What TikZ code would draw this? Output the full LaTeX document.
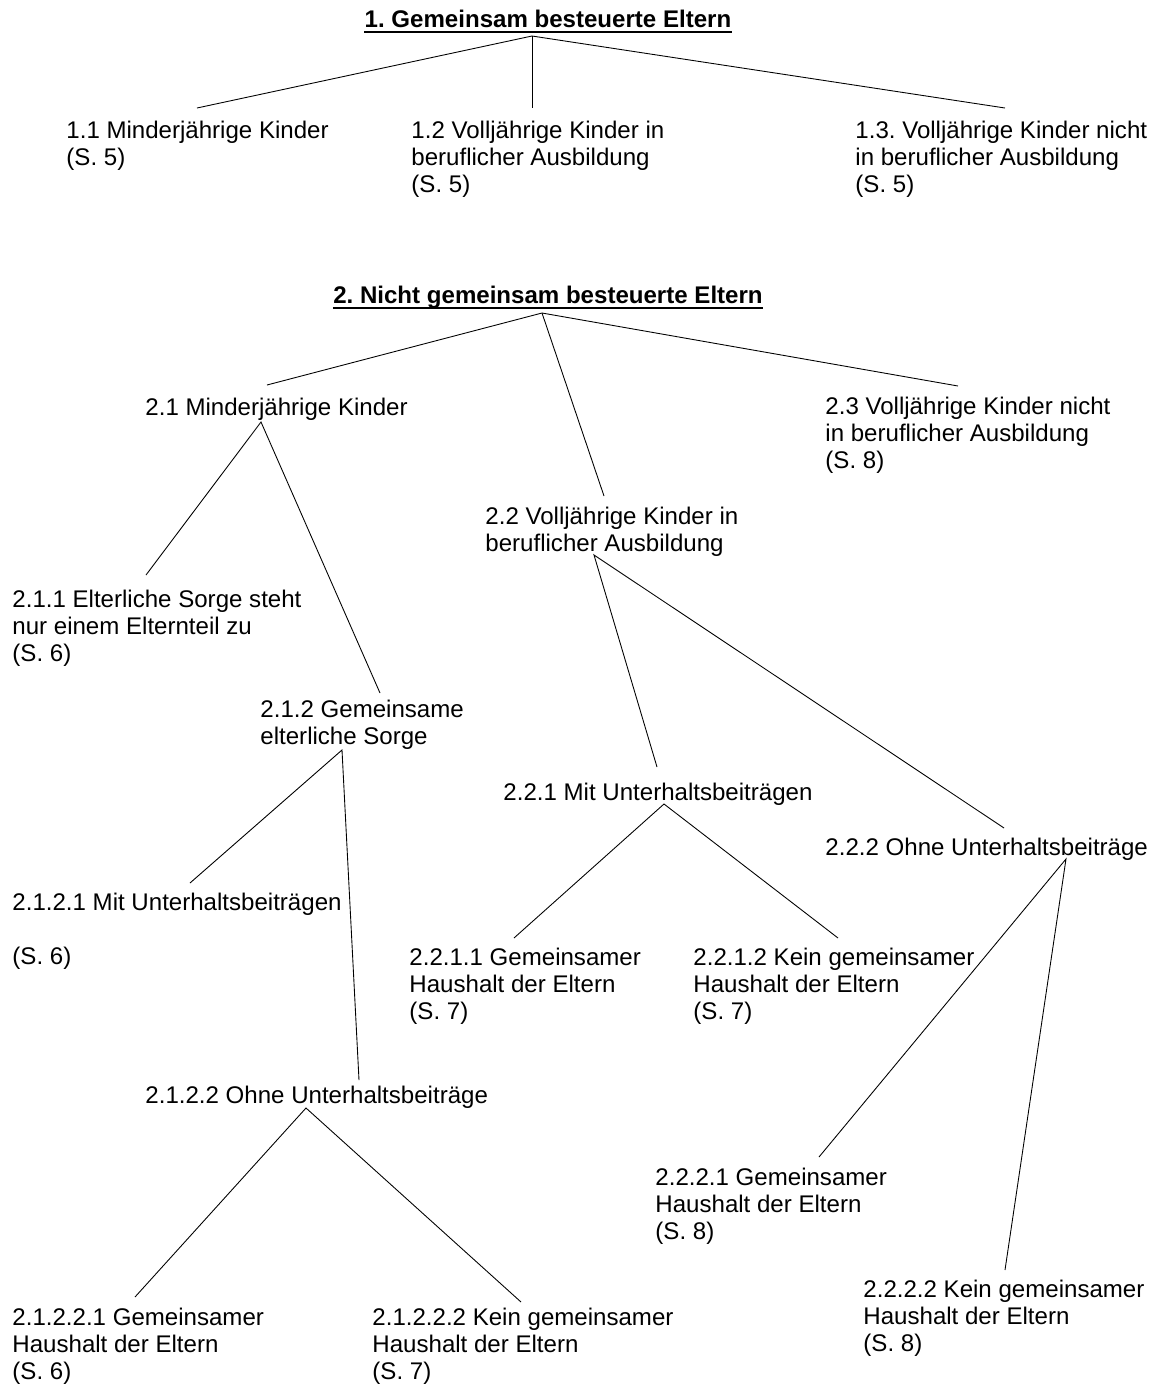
\documentclass[tikz,border=0pt]{standalone}
\usepackage{fontspec}
\setmainfont{Liberation Sans}
\frenchspacing
\newcommand{\rows}[1]{\begin{tabular}[t]{@{}l@{}}#1\end{tabular}}
\begin{document}
\begin{tikzpicture}[x=0.02cm,y=-0.02cm,line width=0.5pt,
  item/.style={anchor=base west,inner sep=0pt,font=\fontsize{13.7}{15.4}\selectfont},
  head/.style={anchor=base,inner sep=0pt,font=\fontsize{13.7}{15.4}\selectfont\bfseries}]
  \useasboundingbox (0,0) rectangle (1166,1384);

  \node[head] (t1) at (548,27) {1. Gemeinsam besteuerte Eltern};
  \node[item] (n11) at (66,138) {\rows{1.1 Minderjährige Kinder\\(S. 5)}};
  \node[item] (n12) at (411,138) {\rows{1.2 Volljährige Kinder in\\beruflicher Ausbildung\\(S. 5)}};
  \node[item] (n13) at (855,138) {\rows{1.3. Volljährige Kinder nicht\\in beruflicher Ausbildung\\(S. 5)}};

  \node[head] (t2) at (548,303) {2. Nicht gemeinsam besteuerte Eltern};
  \node[item] (n21) at (145,415) {2.1 Minderjährige Kinder};
  \node[item] (n22) at (485,524) {\rows{2.2 Volljährige Kinder in\\beruflicher Ausbildung}};
  \node[item] (n23) at (825,414) {\rows{2.3 Volljährige Kinder nicht\\in beruflicher Ausbildung\\(S. 8)}};
  \node[item] (n211) at (12,607) {\rows{2.1.1 Elterliche Sorge steht\\nur einem Elternteil zu\\(S. 6)}};
  \node[item] (n212) at (260,717) {\rows{2.1.2 Gemeinsame\\elterliche Sorge}};
  \node[item] (n2121) at (12,910) {\rows{2.1.2.1 Mit Unterhaltsbeiträgen\\[15.4pt](S. 6)}};
  \node[item] (n2122) at (145,1103) {2.1.2.2 Ohne Unterhaltsbeiträge};
  \node[item] (n21221) at (12,1325) {\rows{2.1.2.2.1 Gemeinsamer\\Haushalt der Eltern\\(S. 6)}};
  \node[item] (n21222) at (372,1325) {\rows{2.1.2.2.2 Kein gemeinsamer\\Haushalt der Eltern\\(S. 7)}};
  \node[item] (n221) at (503,800) {2.2.1 Mit Unterhaltsbeiträgen};
  \node[item] (n222) at (825,855) {2.2.2 Ohne Unterhaltsbeiträge};
  \node[item] (n2211) at (409,965) {\rows{2.2.1.1 Gemeinsamer\\Haushalt der Eltern\\(S. 7)}};
  \node[item] (n2212) at (693,965) {\rows{2.2.1.2 Kein gemeinsamer\\Haushalt der Eltern\\(S. 7)}};
  \node[item] (n2221) at (655,1185) {\rows{2.2.2.1 Gemeinsamer\\Haushalt der Eltern\\(S. 8)}};
  \node[item] (n2222) at (863,1297) {\rows{2.2.2.2 Kein gemeinsamer\\Haushalt der Eltern\\(S. 8)}};

  % underlined titles
  \draw[line width=1.1pt] ([shift={(0,5)}]t1.base west) -- ([shift={(0,5)}]t1.base east);
  \draw[line width=1.1pt] ([shift={(0,5)}]t2.base west) -- ([shift={(0,5)}]t2.base east);

  % 1.
  \draw ([shift={(131,-30)}]n11.base west) -- ([shift={(-16,9)}]t1.base) -- ([shift={(150,-30)}]n13.base west);
  \draw ([shift={(-16,9)}]t1.base) -- ([shift={(121,-30)}]n12.base west);

  % 2.
  \draw ([shift={(122,-30)}]n21.base west) -- ([shift={(-6,10)}]t2.base) -- ([shift={(133,-28)}]n23.base west);
  \draw ([shift={(-6,10)}]t2.base) -- ([shift={(119,-28)}]n22.base west);
  \draw ([shift={(134,-32)}]n211.base west) -- ([shift={(116,7)}]n21.base west) -- ([shift={(120,-24)}]n212.base west);
  \draw ([shift={(178,-27)}]n2121.base west) -- ([shift={(82,33)}]n212.base west) -- ([shift={(214,-23)}]n2122.base west);
  \draw ([shift={(123,-28)}]n21221.base west) -- ([shift={(161,5)}]n2122.base west) -- ([shift={(149,-23)}]n21222.base west);
  \draw ([shift={(154,-33)}]n221.base west) -- ([shift={(109,31)}]n22.base west) -- ([shift={(179,-27)}]n222.base west);
  \draw ([shift={(105,-27)}]n2211.base west) -- ([shift={(161,4)}]n221.base west) -- ([shift={(145,-27)}]n2212.base west);
  \draw ([shift={(164,-28)}]n2221.base west) -- ([shift={(241,4)}]n222.base west) -- ([shift={(142,-27)}]n2222.base west);
\end{tikzpicture}
\end{document}
